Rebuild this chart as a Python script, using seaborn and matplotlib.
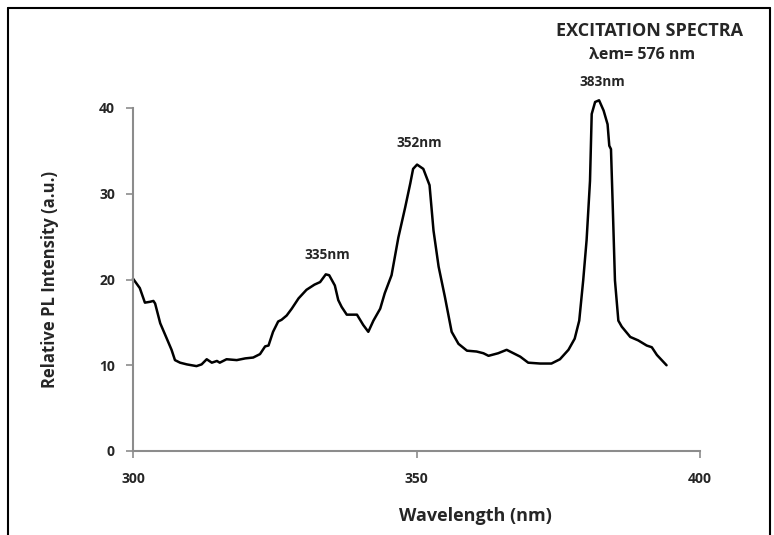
import matplotlib
matplotlib.use("Agg")
import matplotlib.pyplot as plt
from matplotlib.lines import Line2D
import seaborn as sns
import pandas as pd

wavelength = [300.0, 301.2, 302.1, 303.0, 303.6, 303.9, 304.8, 305.9, 306.8, 307.4, 308.3, 309.5,
              311.2, 312.1, 313.0, 313.9, 314.8, 315.3, 316.5, 318.3, 319.8, 321.2, 322.4, 323.3,
              323.9, 324.7, 325.6, 326.2, 327.1, 328.0, 329.2, 330.6, 332.0, 333.0, 334.0, 334.6,
              335.6, 336.2, 336.8, 337.7, 339.5, 340.6, 341.5, 342.4, 343.6, 344.4, 345.6, 346.8,
              348.0, 348.9, 349.4, 350.1, 351.2, 352.3, 353.0, 353.9, 355.0, 356.2, 357.4, 358.9,
              360.6, 361.8, 362.7, 364.4, 365.9, 367.1, 368.3, 369.7, 371.8, 373.8, 375.3, 376.8,
              377.9, 378.7, 379.4, 380.0, 380.6, 380.9, 381.5, 382.2, 383.0, 383.7, 384.0, 384.3,
              384.6, 385.0, 385.6, 386.2, 387.7, 389.1, 390.6, 391.5, 392.4, 394.1]
intensity = [20.1, 19.0, 17.3, 17.4, 17.5, 17.2, 14.9, 13.2, 11.8, 10.6, 10.3, 10.1,
             9.9, 10.1, 10.7, 10.3, 10.5, 10.3, 10.7, 10.6, 10.8, 10.9, 11.3, 12.2,
             12.3, 13.9, 15.1, 15.3, 15.8, 16.6, 17.8, 18.8, 19.4, 19.7, 20.6, 20.5,
             19.3, 17.6, 16.8, 15.9, 15.9, 14.7, 13.9, 15.2, 16.6, 18.4, 20.5, 24.9,
             28.4, 31.2, 32.9, 33.4, 32.9, 31.0, 25.7, 21.5, 18.0, 13.9, 12.5, 11.7,
             11.6, 11.4, 11.1, 11.4, 11.8, 11.4, 11.0, 10.3, 10.2, 10.2, 10.7, 11.8,
             13.1, 15.2, 19.9, 24.6, 31.5, 39.3, 40.7, 40.9, 39.7, 38.1, 35.6, 35.2,
             28.8, 19.9, 15.2, 14.5, 13.3, 12.9, 12.3, 12.1, 11.2, 10.0]

x_ticks = [300, 350, 400]
y_ticks = [0, 10, 20, 30, 40]
peak_labels = ["335nm", "352nm", "383nm"]
peak_x = [334.2, 350.5, 382.7]
peak_y = [22.9, 35.9, 43.0]

sns.set_theme(style="white")
plt.rcParams["font.family"] = ["Open Sans", "DejaVu Sans"]

fig = plt.figure(figsize=(7.74, 5.35), dpi=100)
ax = fig.add_axes([133/774, 1 - 451/535, (700 - 133)/774, (451 - 108)/535])

df = pd.DataFrame({"Wavelength": wavelength, "Intensity": intensity})
sns.lineplot(data=df, x="Wavelength", y="Intensity", ax=ax, color="black", linewidth=1.8)
for ln in ax.lines:
    ln.set_clip_on(False)

ax.set_xlim(300, 400)
ax.set_ylim(0, 40)
ax.set_xticks(x_ticks)
ax.set_yticks(y_ticks)
ax.set_xticklabels([str(v) for v in x_ticks], fontsize=10, fontweight="bold")
ax.set_yticklabels([str(v) for v in y_ticks], fontsize=10, fontweight="bold")
for s in ["top", "right"]:
    ax.spines[s].set_visible(False)
for s in ["left", "bottom"]:
    ax.spines[s].set_color("#8c8c8c")
    ax.spines[s].set_linewidth(1.5)
ax.tick_params(axis="x", direction="out", length=5, width=1.2, color="#8c8c8c", pad=10, bottom=True)
ax.tick_params(axis="y", direction="out", length=5, width=1.2, color="#8c8c8c", pad=8, left=True)
ax.set_xlabel("Wavelength (nm)", fontsize=13, fontweight="bold")
ax.set_ylabel("Relative PL Intensity (a.u.)", fontsize=12, fontweight="bold")
ax.xaxis.set_label_coords((475 - 133)/567, -(516 - 451)/343)
ax.yaxis.set_label_coords(-(133 - 50)/567, (451 - 280)/343)
ax.xaxis.label.set_va("center")
ax.yaxis.label.set_va("center")

for lbl, px, py in zip(peak_labels, peak_x, peak_y):
    ax.text(px, py, lbl, fontsize=9.8, fontweight="bold", ha="center", va="center", clip_on=False)

fig.text(649/774, 1 - 31/535, "EXCITATION SPECTRA", fontsize=13, fontweight="bold",
         ha="center", va="center")
fig.text(642/774, 1 - 55/535, "λem= 576 nm", fontsize=11.5, fontweight="bold",
         ha="center", va="center")

# figure frame (left, top, right)
fx0, fx1, fy = 8/774, 770/774, 1 - 8/535
fig.add_artist(Line2D([fx0, fx0], [0, fy], transform=fig.transFigure, color="black", lw=1.5))
fig.add_artist(Line2D([fx0, fx1], [fy, fy], transform=fig.transFigure, color="black", lw=1.5))
fig.add_artist(Line2D([fx1, fx1], [0, fy], transform=fig.transFigure, color="black", lw=1.5))

fig.savefig("out.png", dpi=100)
